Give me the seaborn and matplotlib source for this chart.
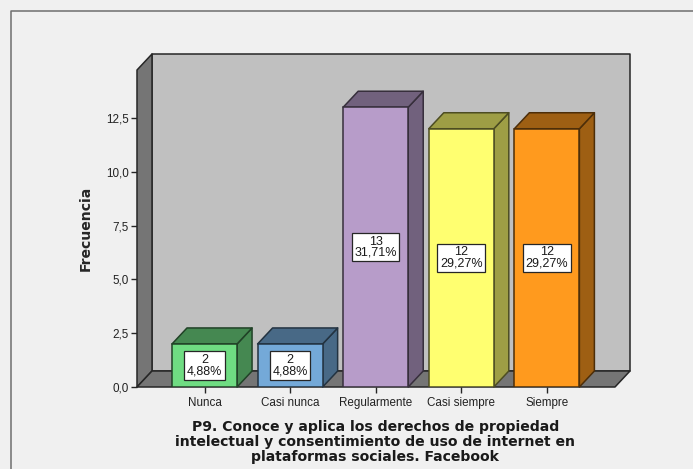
import matplotlib
matplotlib.use('Agg')
import matplotlib.pyplot as plt
from matplotlib.colors import to_rgb
from matplotlib.lines import Line2D
from matplotlib.patches import Polygon
import seaborn as sns

categories = ['Nunca', 'Casi nunca', 'Regularmente', 'Casi siempre', 'Siempre']
frecuencia = [2, 2, 13, 12, 12]
porcentaje = ['4,88%', '4,88%', '31,71%', '29,27%', '29,27%']
colores = ['#6fdc82', '#74a9d8', '#b79cc9', '#ffff70', '#ff9a1e']
y_ticks = [0, 2.5, 5, 7.5, 10, 12.5]
y_labels = ['0,0', '2,5', '5,0', '7,5', '10,0', '12,5']
titulo = ('P9. Conoce y aplica los derechos de propiedad\n'
          'intelectual y consentimiento de uso de internet en\n'
          'plataformas sociales. Facebook')

W, H = 693, 469
BG = '#f0f0f0'
WALL = '#c0c0c0'
FLOOR = '#757575'
LINE = '#262626'
LW = 1.1

sns.set_theme(style='white', rc={'figure.facecolor': BG, 'axes.facecolor': 'none'})
plt.rcParams['font.family'] = ['Liberation Sans', 'DejaVu Sans']

fig = plt.figure(figsize=(W / 100, H / 100), dpi=100)
ax = fig.add_axes([137 / W, (H - 387) / H, (615 - 137) / W, (387 - 70) / H])

sns.barplot(x=categories, y=frecuencia, hue=categories, palette=colores, width=0.76,
            saturation=1, linewidth=LW, legend=False, ax=ax, zorder=3)

xlim = (-0.789, 4.796)
ylim = (0, 14.73)
ax.set_xlim(xlim)
ax.set_ylim(ylim)

# profundidad del efecto 3D en unidades de datos
dx = 15 / 85.6
dy = 16 / 21.52


def cara(puntos, color, z=1, borde=LINE):
    ax.add_patch(Polygon(puntos, closed=True, facecolor=color, edgecolor=borde,
                         linewidth=LW, joinstyle='round', clip_on=False, zorder=z))


# paredes y suelo
x0, x1 = xlim
y1 = ylim[1]
cara([(x0 + dx, dy), (x1 + dx, dy), (x1 + dx, y1 + dy), (x0 + dx, y1 + dy)], WALL)
cara([(x0, 0), (x0 + dx, dy), (x0 + dx, y1 + dy), (x0, y1)], FLOOR)
cara([(x0, 0), (x1, 0), (x1 + dx, dy), (x0 + dx, dy)], FLOOR)

# caras lateral y superior de cada barra
for bar, color, n, pct in zip(list(ax.patches)[:5], colores, frecuencia, porcentaje):
    a = bar.get_x()
    b = a + bar.get_width()
    h = bar.get_height()
    oscuro = tuple(c * 0.62 for c in to_rgb(color))
    borde = tuple(c * 0.3 for c in to_rgb(color))
    bar.set_edgecolor(borde)
    cara([(b, 0), (b + dx, dy), (b + dx, h + dy), (b, h)], oscuro, 2, borde)
    cara([(a, h), (b, h), (b + dx, h + dy), (a + dx, h + dy)], oscuro, 2, borde)
    ax.text((a + b) / 2, h / 2, f'{n}\n{pct}', ha='center', va='center', fontsize=9,
            linespacing=0.9, color='#1a1a1a', zorder=5,
            bbox=dict(boxstyle='square,pad=0.2', facecolor='white', edgecolor=LINE, linewidth=0.9))

sns.despine(ax=ax, left=True, bottom=True)
ax.set_yticks(y_ticks, y_labels)
ax.tick_params(axis='both', length=4, width=1, color=LINE, labelsize=8.4, labelcolor='#222222',
               left=True, bottom=True, pad=2)
ax.tick_params(axis='x', pad=3)
ax.set_ylabel('Frecuencia', fontsize=10.1, fontweight='bold', family='DejaVu Sans', labelpad=0)
ax.yaxis.set_label_coords((93 - 137) / (615 - 137), (387 - 228) / (387 - 70))
ax.set_xlabel('')

fig.text(375.5 / W, (H - 442) / H, titulo, ha='center', va='center', fontsize=10.1,
         fontweight='bold', family='DejaVu Sans', linespacing=1.05, color='#1a1a1a')

# marco exterior
fig.add_artist(Line2D([11 / W, 11 / W, 1], [0, (H - 11) / H, (H - 11) / H],
                      color='#6e6e6e', linewidth=1.1))

fig.savefig('out.png', dpi=100, facecolor=BG)
